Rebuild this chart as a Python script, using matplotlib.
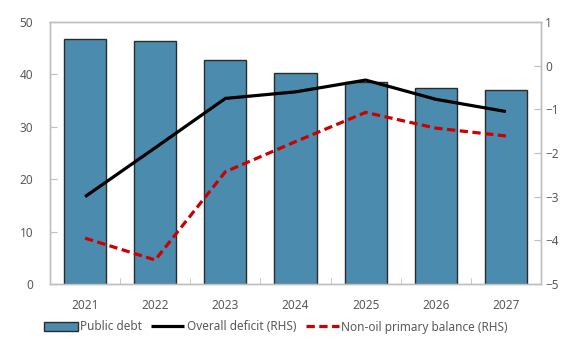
import numpy as np
import matplotlib
matplotlib.use("Agg")
import matplotlib.pyplot as plt

years = ["2021", "2022", "2023", "2024", "2025", "2026", "2027"]
public_debt = [46.8, 46.4, 42.8, 40.3, 38.6, 37.5, 37.1]
overall_deficit = [-3.0, -1.88, -0.75, -0.6, -0.33, -0.77, -1.05]
non_oil_primary = [-3.95, -4.45, -2.43, -1.74, -1.07, -1.43, -1.61]

plt.rcParams["font.family"] = ["Noto Sans", "DejaVu Sans"]
grey = "#595959"
spine_grey = "#bfbfbf"

fig = plt.figure(figsize=(5.62, 3.39), dpi=100)
ax = fig.add_axes([50 / 562, 55 / 339, 491 / 562, 262 / 339])
ax2 = ax.twinx()

x = np.arange(len(years))
bars = ax.bar(x, public_debt, width=0.6, color="#4b8bae", edgecolor="#2b2b2b",
              linewidth=1.0, label="Public debt", zorder=2)
l1, = ax2.plot(x, overall_deficit, color="black", lw=2.3, label="Overall deficit (RHS)",
               solid_capstyle="butt")
l2, = ax2.plot(x, non_oil_primary, color="#cc0000", lw=2.3, dashes=(2.6, 1.4),
               label="Non-oil primary balance (RHS)")

ax.set_xlim(-0.5, len(years) - 0.5)
ax.set_ylim(0, 50)
ax.set_yticks(range(0, 51, 10))
ax2.set_ylim(-5, 1)
ax2.set_yticks(range(-5, 2))

# labels at bar centres, small tick marks between the bars
ax.set_xticks(x)
ax.set_xticklabels(years)
ax.set_xticks(x[:-1] + 0.5, minor=True)
ax.tick_params(axis="x", which="major", length=0, pad=11, labelsize=8.5, labelcolor=grey)
ax.tick_params(axis="x", which="minor", direction="in", length=4, color=spine_grey)
ax.tick_params(axis="y", direction="in", length=5, color=spine_grey, pad=12,
               labelsize=8.5, labelcolor=grey)
ax2.tick_params(axis="y", direction="in", length=5, color=spine_grey, pad=3,
                labelsize=8.5, labelcolor=grey)

for a in (ax, ax2):
    for s in a.spines.values():
        s.set_color(spine_grey)
        s.set_linewidth(1.0)

fig.legend(handles=[bars, l1, l2], loc="center", bbox_to_anchor=(276 / 562, 12 / 339),
           ncol=3, frameon=False, fontsize=8.5, labelcolor=grey, handlelength=2.8,
           handletextpad=0.2, columnspacing=0.8, borderaxespad=0)

fig.savefig("out.png", dpi=100)
